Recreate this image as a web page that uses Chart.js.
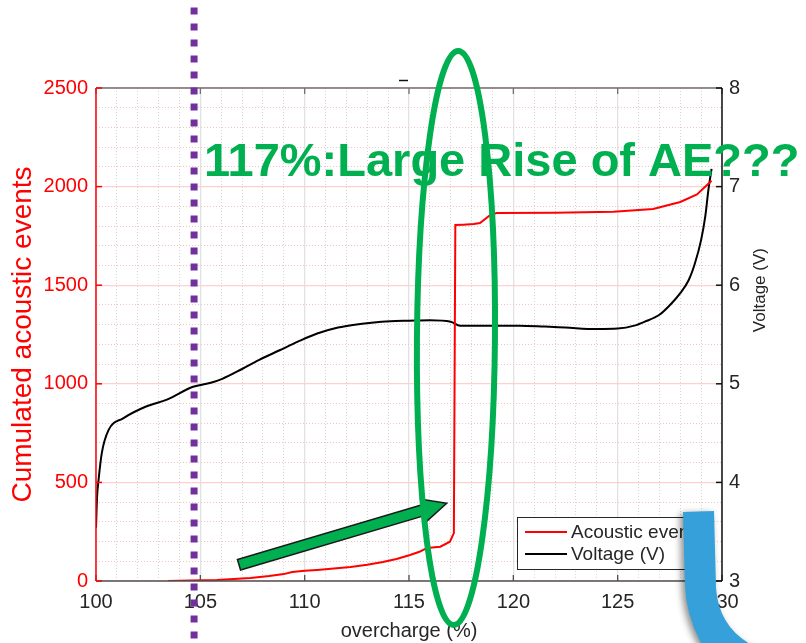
<!DOCTYPE html>
<html>
<head>
<meta charset="utf-8">
<script src="https://cdn.jsdelivr.net/npm/chart.js@4.4.1/dist/chart.umd.min.js"></script>
<style>
  html, body { margin: 0; padding: 0; background: #ffffff; }
  canvas { display: block; }
</style>
</head>
<body>
<canvas id="c" width="806" height="643"></canvas>
<script>
// Cumulated acoustic events against overcharge (%)
const overchargeAE = [103.45, 104.5, 105.8, 106.6, 107.4, 108.3, 109.0, 109.4, 110.0, 110.6,
  111.4, 112.2, 113.0, 113.75, 114.4, 115.05, 115.5, 115.86, 116.5, 116.96,
  117.15, 117.22, 117.6, 118.1, 118.4, 118.9, 119.2, 122.0, 124.8, 126.7,
  128.0, 128.8, 129.5];
const acousticEvents = [0, 2, 5, 10, 15, 25, 35, 46, 52, 56,
  63, 71, 82, 96, 112, 132, 148, 167, 174, 199,
  243, 1805, 1807, 1810, 1815, 1856, 1866, 1868, 1873, 1886,
  1922, 1960, 2030];

// Cell voltage against overcharge (%)
const overchargeV = [100.0, 100.05, 100.12, 100.28, 100.6, 101.3, 102.4, 103.4, 104.65, 105.5,
  106.05, 107.0, 107.8, 108.8, 109.7, 110.6, 111.6, 112.4, 113.2, 114.1,
  115.0, 116.0, 117.0, 117.45, 118.5, 120.3, 121.5, 122.5, 124.0, 125.0,
  125.8, 126.3, 127.0, 127.6, 128.0, 128.4, 128.7, 129.0, 129.2, 129.35, 129.5];
const voltage = [3.54, 3.85, 4.02, 4.30, 4.53, 4.65, 4.77, 4.84, 4.97, 5.01,
  5.05, 5.15, 5.24, 5.34, 5.43, 5.51, 5.57, 5.60, 5.62, 5.635,
  5.64, 5.645, 5.63, 5.59, 5.59, 5.59, 5.58, 5.57, 5.555, 5.56,
  5.59, 5.63, 5.70, 5.82, 5.92, 6.05, 6.22, 6.46, 6.70, 6.97, 7.18];

const xTicks = [100, 105, 110, 115, 120, 125, 130];
const aeTicks = [0, 500, 1000, 1500, 2000, 2500];
const voltTicks = [3, 4, 5, 6, 7, 8];
const seriesLabels = ['Acoustic events', 'Voltage (V)'];
const xTitle = 'overcharge (%)';
const aeTitle = 'Cumulated acoustic events';
const voltTitle = 'Voltage (V)';
const noteText = '117%:Large Rise of AE???';
const markOvercharge = 104.7;   // dotted purple marker
const riseOvercharge = 117.25;  // circled jump of acoustic events
const voltTitleAt = 5.95;       // voltage level the right-hand title is centred on

const FONT = '"Liberation Sans", Arial, Helvetica, sans-serif';
const RED = '#ff0000';
const INK = '#262626';
const GREEN = '#00b050';

const useTicks = values => scale => { scale.ticks = values.map(v => ({ value: v })); };
const stepTicks = (min, max, step) => scale => {
  const t = [];
  for (let v = min; v <= max + 1e-9; v += step) t.push({ value: v });
  scale.ticks = t;
};
const plain = v => String(v);

function line(ctx, x1, y1, x2, y2) {
  ctx.beginPath(); ctx.moveTo(x1, y1); ctx.lineTo(x2, y2); ctx.stroke();
}

// Axes box with inward tick marks, right-hand axis title and legend
const framePlugin = {
  id: 'frame',
  afterDatasetsDraw(chart) {
    const { ctx, chartArea: a, scales } = chart;
    ctx.save();
    ctx.lineWidth = 1.5;
    ctx.strokeStyle = '#707070';
    line(ctx, a.left, a.top, a.right, a.top);
    ctx.strokeStyle = '#505050';
    line(ctx, a.left, a.bottom, a.right, a.bottom);
    ctx.lineWidth = 1.3;
    for (const v of xTicks) {
      const px = scales.x.getPixelForValue(v);
      ctx.strokeStyle = '#505050';
      line(ctx, px, a.bottom, px, a.bottom - 6);
      ctx.strokeStyle = '#707070';
      line(ctx, px, a.top, px, a.top + 6);
    }
    ctx.lineWidth = 1.5;
    ctx.strokeStyle = RED;
    line(ctx, a.left, a.top, a.left, a.bottom);
    for (const v of aeTicks) {
      const py = scales.y.getPixelForValue(v);
      line(ctx, a.left, py, a.left + 6, py);
    }
    ctx.strokeStyle = '#111111';
    line(ctx, a.right, a.top, a.right, a.bottom);
    for (const v of voltTicks) {
      const py = scales.y1.getPixelForValue(v);
      line(ctx, a.right - 6, py, a.right, py);
    }

    // right-hand axis title, reading upwards
    ctx.save();
    ctx.translate(760, scales.y1.getPixelForValue(voltTitleAt));
    ctx.rotate(-Math.PI / 2);
    ctx.font = '17px ' + FONT;
    ctx.fillStyle = INK;
    ctx.textAlign = 'center';
    ctx.textBaseline = 'middle';
    ctx.fillText(voltTitle, 0, 0);
    ctx.restore();
    ctx.restore();

    // Legend box, lower right inside the axes
    const ds = chart.data.datasets;
    const bx = 517, by = 517, bw = 196, bh = 52;
    ctx.save();
    ctx.fillStyle = '#ffffff';
    ctx.fillRect(bx, by, bw, bh);
    ctx.strokeStyle = '#262626';
    ctx.lineWidth = 1;
    ctx.strokeRect(bx + 0.5, by + 0.5, bw, bh);
    ctx.font = '19px ' + FONT;
    ctx.textBaseline = 'middle';
    ctx.fillStyle = INK;
    ds.forEach((d, i) => {
      const yy = by + 15 + i * 22;
      ctx.strokeStyle = d.borderColor;
      ctx.lineWidth = 2;
      line(ctx, bx + 8, yy, bx + 50, yy);
      ctx.fillText(d.label, bx + 54, yy + 1);
    });
    ctx.restore();
  }
};

// Annotations drawn over the plot
const notesPlugin = {
  id: 'notes',
  afterDraw(chart) {
    const { ctx, scales } = chart;
    const H = chart.height;
    ctx.save();

    // purple dotted marker
    const mx = scales.x.getPixelForValue(markOvercharge);
    ctx.strokeStyle = '#7030a0';
    ctx.lineWidth = 7;
    ctx.setLineDash([7, 9]);
    line(ctx, mx, 7.5, mx, H);
    ctx.setLineDash([]);

    // small stray mark above the axes
    ctx.strokeStyle = '#111111';
    ctx.lineWidth = 1.5;
    line(ctx, 399, 80.5, 408, 80.5);

    // headline
    ctx.fillStyle = GREEN;
    ctx.font = 'bold 47px ' + FONT;
    ctx.textBaseline = 'alphabetic';
    ctx.fillText(noteText, 204, 176);

    // arrow pointing at the jump
    const tx = 239, ty = 564.7, hx = 446.7, hy = 503.3;
    const L = Math.hypot(hx - tx, hy - ty);
    const ux = (hx - tx) / L, uy = (hy - ty) / L;
    const nx = -uy, ny = ux;
    const sw = 5.5, hw = 11.5, hl = 24;
    const bxp = hx - ux * hl, byp = hy - uy * hl;
    ctx.beginPath();
    ctx.moveTo(tx + nx * sw, ty + ny * sw);
    ctx.lineTo(bxp + nx * sw, byp + ny * sw);
    ctx.lineTo(bxp + nx * hw, byp + ny * hw);
    ctx.lineTo(hx, hy);
    ctx.lineTo(bxp - nx * hw, byp - ny * hw);
    ctx.lineTo(bxp - nx * sw, byp - ny * sw);
    ctx.lineTo(tx - nx * sw, ty - ny * sw);
    ctx.closePath();
    ctx.fillStyle = GREEN;
    ctx.fill();
    ctx.strokeStyle = '#1a1a1a';
    ctx.lineWidth = 1.5;
    ctx.stroke();

    // ellipse round the jump
    const ex = scales.x.getPixelForValue(riseOvercharge);
    ctx.beginPath();
    ctx.ellipse(ex, 338, 39, 287, 0.008, 0, Math.PI * 2);
    ctx.strokeStyle = GREEN;
    ctx.lineWidth = 6;
    ctx.stroke();

    // blue curved band, lower right
    ctx.save();
    ctx.shadowColor = 'rgba(0,0,0,0.45)';
    ctx.shadowBlur = 7;
    ctx.shadowOffsetX = -3;
    ctx.shadowOffsetY = 2;
    ctx.beginPath();
    ctx.moveTo(683, 512);
    ctx.lineTo(714, 511);
    ctx.lineTo(716, 588);
    ctx.quadraticCurveTo(719, 632, 762, 650);
    ctx.lineTo(705, 650);
    ctx.quadraticCurveTo(686, 618, 685, 585);
    ctx.closePath();
    ctx.fillStyle = '#35a0da';
    ctx.fill();
    ctx.restore();

    ctx.restore();
  }
};

new Chart(document.getElementById('c'), {
  type: 'line',
  data: {
    datasets: [
      {
        label: seriesLabels[0],
        data: overchargeAE.map((x, i) => ({ x, y: acousticEvents[i] })),
        yAxisID: 'y',
        borderColor: RED,
        borderWidth: 2,
        pointRadius: 0,
        tension: 0
      },
      {
        label: seriesLabels[1],
        data: overchargeV.map((x, i) => ({ x, y: voltage[i] })),
        yAxisID: 'y1',
        borderColor: '#000000',
        borderWidth: 2,
        pointRadius: 0,
        cubicInterpolationMode: 'monotone'
      }
    ]
  },
  options: {
    responsive: false,
    animation: false,
    devicePixelRatio: 1,
    layout: { padding: { top: 88, left: 0, right: 0, bottom: 0 } },
    plugins: {
      legend: { display: false },
      tooltip: { enabled: false },
      title: { display: false }
    },
    scales: {
      x: {
        type: 'linear', position: 'bottom', min: 100, max: 130,
        afterBuildTicks: useTicks(xTicks),
        afterFit: s => { s.height = 62; },
        ticks: { color: INK, font: { family: FONT, size: 20 }, padding: 9, maxRotation: 0, autoSkip: false, callback: plain },
        grid: { color: '#e2e2e2', lineWidth: 1.3, drawTicks: false },
        border: { display: false },
        title: { display: true, text: xTitle, color: INK, font: { family: FONT, size: 20 }, padding: { top: 0, bottom: 0 } }
      },
      xMinor: {
        type: 'linear', position: 'bottom', min: 100, max: 130,
        afterBuildTicks: stepTicks(100, 130, 1),
        afterFit: s => { s.height = 0; },
        ticks: { display: false },
        grid: { color: c => (c.tick && c.tick.value % 5 === 0) ? 'rgba(0,0,0,0)' : '#d6d6d6', lineWidth: 1, drawTicks: false },
        border: { display: false, dash: [1, 2] }
      },
      y: {
        type: 'linear', position: 'left', min: 0, max: 2500,
        afterBuildTicks: useTicks(aeTicks),
        afterFit: s => { s.width = 96; },
        ticks: { color: RED, font: { family: FONT, size: 20 }, padding: 8, callback: plain },
        grid: { color: '#ffd0d0', lineWidth: 1.3, drawTicks: false },
        border: { display: false },
        title: { display: true, text: aeTitle, color: RED, font: { family: FONT, size: 28 }, padding: { top: 6, bottom: 0 } }
      },
      yMinor: {
        type: 'linear', position: 'left', min: 0, max: 2500,
        afterBuildTicks: stepTicks(0, 2500, 100),
        afterFit: s => { s.width = 0; },
        ticks: { display: false },
        grid: { color: c => (c.tick && c.tick.value % 500 === 0) ? 'rgba(0,0,0,0)' : '#f0c4c4', lineWidth: 1, drawTicks: false },
        border: { display: false, dash: [1, 2] }
      },
      y1: {
        type: 'linear', position: 'right', min: 3, max: 8,
        afterBuildTicks: useTicks(voltTicks),
        afterFit: s => { s.width = 84; },
        ticks: { color: INK, font: { family: FONT, size: 20 }, padding: 7, callback: plain },
        grid: { drawOnChartArea: false, drawTicks: false },
        border: { display: false }
      }
    }
  },
  plugins: [framePlugin, notesPlugin]
});
</script>
</body>
</html>
